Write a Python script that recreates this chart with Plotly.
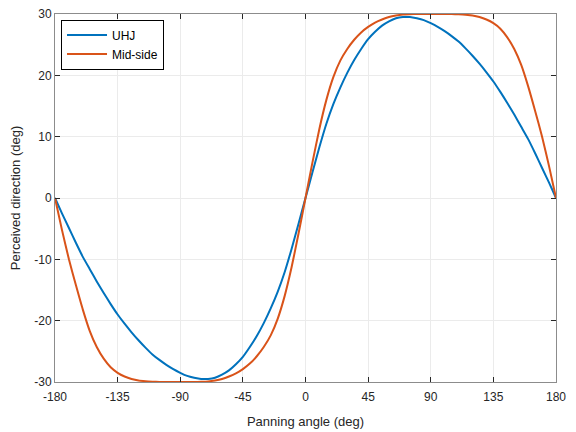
import plotly.graph_objects as go

# Panning angle (deg)
angles = [-180, -175, -170, -165, -160, -155, -150, -145, -140, -135, -130, -125,
          -120, -115, -110, -105, -100, -95, -90, -85, -80, -75, -70, -65,
          -60, -55, -50, -45, -40, -35, -30, -25, -20, -15, -10, -5,
          0, 5, 10, 15, 20, 25, 30, 35, 40, 45, 50, 55,
          60, 65, 70, 75, 80, 85, 90, 95, 100, 105, 110, 115,
          120, 125, 130, 135, 140, 145, 150, 155, 160, 165, 170, 175, 180]

# Perceived direction (deg), UHJ
uhj = [0, -2.5, -4.9, -7.3, -9.6, -11.6, -13.6, -15.5, -17.3, -19.0, -20.5, -21.9,
       -23.2, -24.4, -25.5, -26.4, -27.2, -27.9, -28.5, -29.0, -29.3, -29.5, -29.5, -29.3,
       -28.8, -28.1, -27.1, -25.9, -24.3, -22.5, -20.4, -18.0, -15.3, -12.1, -8.3, -4.2,
       0, 4.2, 8.3, 12.1, 15.3, 18.0, 20.4, 22.5, 24.3, 25.9, 27.1, 28.1,
       28.8, 29.3, 29.5, 29.5, 29.3, 29.0, 28.5, 27.9, 27.2, 26.4, 25.5, 24.4,
       23.2, 21.9, 20.5, 19.0, 17.3, 15.5, 13.6, 11.6, 9.6, 7.3, 4.9, 2.5, 0]

# Perceived direction (deg), Mid-side
mid_side = [0, -5.2, -10.0, -14.2, -18.2, -21.7, -24.3, -26.2, -27.6, -28.5, -29.1, -29.5,
            -29.75, -29.87, -29.94, -29.98, -30.0, -30.0, -30.0, -30.0, -30.0, -29.96, -29.9, -29.75,
            -29.5, -29.1, -28.6, -27.9, -27.0, -25.8, -24.3, -22.4, -19.7, -16.0, -11.3, -5.8,
            0, 5.8, 11.3, 16.0, 19.7, 22.4, 24.3, 25.8, 27.0, 27.9, 28.6, 29.1,
            29.5, 29.75, 29.9, 29.96, 30.0, 30.0, 30.0, 30.0, 30.0, 29.98, 29.94, 29.87,
            29.75, 29.5, 29.1, 28.5, 27.6, 26.2, 24.3, 21.7, 18.2, 14.2, 10.0, 5.2, 0]

x_ticks = [-180, -135, -90, -45, 0, 45, 90, 135, 180]
x_tick_labels = ["-180", "-135", "-90", "-45", "0", "45", "90", "135", "180"]
y_ticks = [-30, -20, -10, 0, 10, 20, 30]
y_tick_labels = ["-30", "-20", "-10", "0", "10", "20", "30"]

FONT = "Liberation Sans, Arial, Helvetica, sans-serif"
TXT = "#262626"

fig = go.Figure()
fig.add_trace(go.Scatter(x=angles, y=uhj, mode="lines", name="UHJ",
                         line=dict(color="#0072BD", width=2, shape="spline", smoothing=0.5)))
fig.add_trace(go.Scatter(x=angles, y=mid_side, mode="lines", name="Mid-side",
                         line=dict(color="#D95319", width=2, shape="spline", smoothing=0.5)))

axis_common = dict(
    showline=True, linecolor="#8c8c8c", linewidth=1, mirror="ticks",
    ticks="inside", ticklen=5, tickcolor=TXT, tickwidth=1,
    showgrid=True, gridcolor="#ebebeb", gridwidth=1,
    zeroline=False, automargin=False, ticklabeloverflow="allow",
    tickfont=dict(family=FONT, size=12, color=TXT),
)

fig.update_xaxes(range=[-180, 180], tickvals=x_ticks, ticktext=x_tick_labels,
                 ticklabelstandoff=4,
                 title=dict(text="Panning angle (deg)", font=dict(family=FONT, size=13, color=TXT),
                            standoff=13),
                 **axis_common)
fig.update_yaxes(range=[-30, 30], tickvals=y_ticks, ticktext=y_tick_labels,
                 title=dict(text="Perceived direction (deg)", font=dict(family=FONT, size=13, color=TXT),
                            standoff=16),
                 **axis_common)

# page body adds an 8px offset; size the figure so the plot area lands where the reference has it
fig.update_layout(
    width=568, height=424,
    margin=dict(l=47, r=20, t=6, b=50, autoexpand=False),
    paper_bgcolor="white", plot_bgcolor="white",
    font=dict(family=FONT, size=12, color=TXT),
    showlegend=True,
    legend=dict(x=0.012, y=0.985, xanchor="left", yanchor="top",
                bgcolor="white", bordercolor="#000000", borderwidth=1,
                font=dict(family=FONT, size=12, color="#000000"),
                tracegroupgap=0, itemwidth=40),
)

fig.write_html("out.html")
